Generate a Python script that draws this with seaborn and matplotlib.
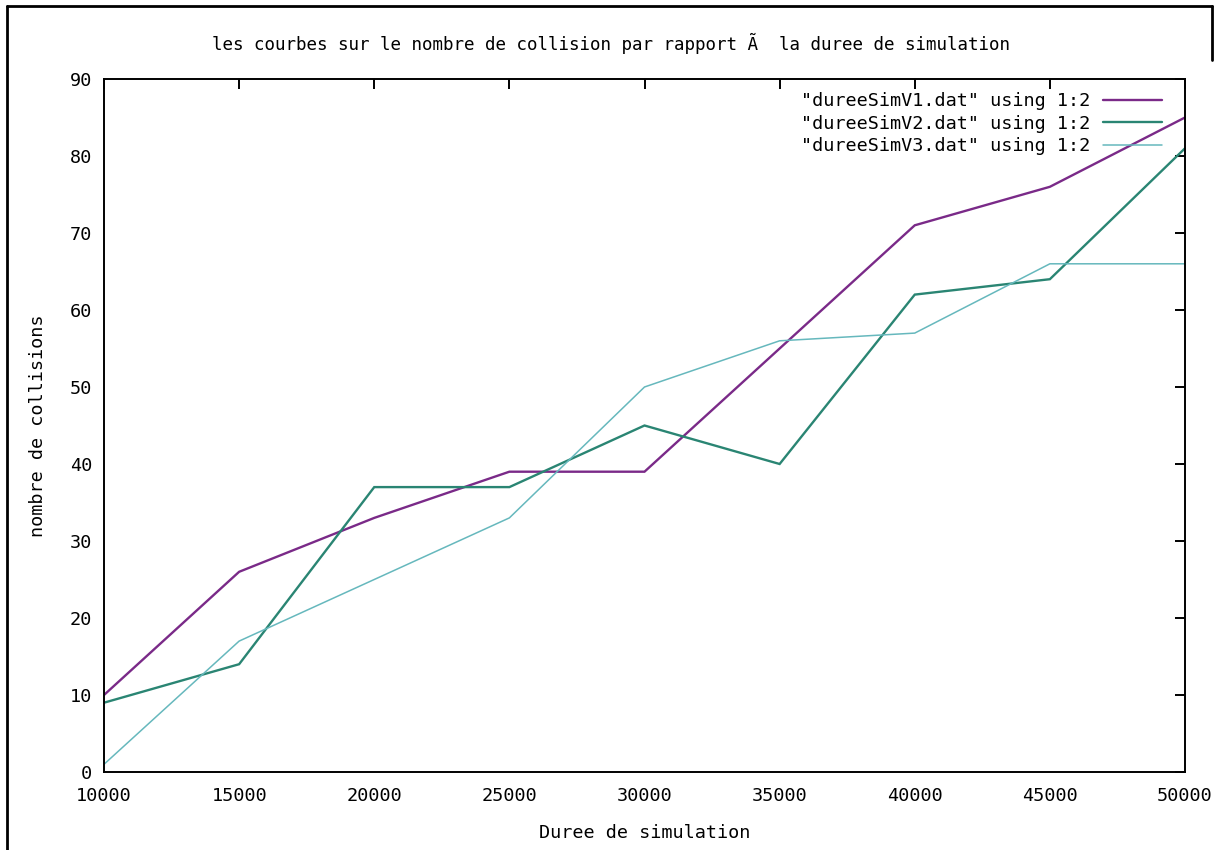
import matplotlib
matplotlib.use("Agg")
import matplotlib.pyplot as plt
from matplotlib.lines import Line2D
import numpy as np
import pandas as pd
import seaborn as sns

# Simulation durations (x) and collision counts for the three data files
duree = [10000, 15000, 20000, 25000, 30000, 35000, 40000, 45000, 50000]
collisions_v1 = [10, 26, 33, 39, 39, 55, 71, 76, 85]
collisions_v2 = [9, 14, 37, 37, 45, 40, 62, 64, 81]
collisions_v3 = [1, 17, 25, 33, 50, 56, 57, 66, 66]

series_names = ['"dureeSimV1.dat" using 1:2',
                '"dureeSimV2.dat" using 1:2',
                '"dureeSimV3.dat" using 1:2']
series_colors = ["#7a2a88", "#2a8573", "#66b8bd"]
series_widths = [1.7, 1.7, 1.1]

x_ticks = [10000, 15000, 20000, 25000, 30000, 35000, 40000, 45000, 50000]
y_ticks = [0, 10, 20, 30, 40, 50, 60, 70, 80, 90]

title_text = "les courbes sur le nombre de collision par rapport Ã  la duree de simulation"
x_label = "Duree de simulation"
y_label = "nombre de collisions"

df = pd.DataFrame({
    "duree": duree * 3,
    "collisions": collisions_v1 + collisions_v2 + collisions_v3,
    "serie": [series_names[0]] * len(duree)
             + [series_names[1]] * len(duree)
             + [series_names[2]] * len(duree),
})

sns.set_style("white")
plt.rcParams["font.family"] = ["DejaVu Sans Mono", "DejaVu Sans"]
plt.rcParams["text.color"] = "black"
plt.rcParams["axes.labelcolor"] = "black"
plt.rcParams["xtick.color"] = "black"
plt.rcParams["ytick.color"] = "black"

W, H = 1221, 850
fig = plt.figure(figsize=(W / 100, H / 100), dpi=100)
fig.patch.set_facecolor("white")

# plot area in pixels: x 104..1185, y 79..772
left, right, top, bottom = 104, 1185, 79, 772
ax = fig.add_axes([left / W, 1 - bottom / H, (right - left) / W, (bottom - top) / H])

sns.lineplot(data=df, x="duree", y="collisions", hue="serie",
             palette=series_colors, hue_order=series_names,
             ax=ax, legend=False, estimator=None, sort=False)
for line, lw in zip(ax.get_lines(), series_widths):
    line.set_linewidth(lw)
    line.set_solid_joinstyle("miter")

ax.set_xlim(10000, 50000)
ax.set_ylim(0, 90)
ax.set_xticks(x_ticks)
ax.set_yticks(y_ticks)
ax.set_xticklabels([str(v) for v in x_ticks])
ax.set_yticklabels([str(v) for v in y_ticks])

for s in ax.spines.values():
    s.set_visible(True)
    s.set_color("black")
    s.set_linewidth(1.4)

ax.tick_params(axis="both", which="both", direction="in", length=7, width=1.4,
               top=True, right=True, labelsize=13.3, colors="black",
               labelcolor="black")
ax.tick_params(axis="y", pad=8.5)
ax.tick_params(axis="x", pad=11)

ax.set_xlabel(x_label, fontsize=13.3, color="black")
ax.set_ylabel(y_label, fontsize=13.3, color="black")
ax.xaxis.label.set_va("center")
ax.yaxis.label.set_va("center")
ax.xaxis.set_label_coords(0.5, (bottom - 833) / (bottom - top))
ax.yaxis.set_label_coords((38 - left) / (right - left), 0.5)

fig.text(0.5, 1 - 43 / H, title_text, ha="center", va="center",
         fontsize=12.6, color="black")

handles = [Line2D([], [], color=c, lw=lw) for c, lw in zip(series_colors, series_widths)]
leg = ax.legend(handles, series_names, loc="upper right",
                bbox_to_anchor=((1162 - left) / (right - left), (bottom - 92) / (bottom - top)),
                frameon=False, markerfirst=False, fontsize=13.3,
                handlelength=3.2, handletextpad=0.7, labelspacing=0.25,
                borderpad=0, borderaxespad=0)
for t in leg.get_texts():
    t.set_color("black")

# outer window frame
fig.add_artist(Line2D([7 / W, 7 / W], [0, 1 - 6 / H], color="black", lw=2,
                      transform=fig.transFigure))
fig.add_artist(Line2D([7 / W, 1212 / W], [1 - 6 / H, 1 - 6 / H], color="black", lw=2,
                      transform=fig.transFigure))
fig.add_artist(Line2D([1212 / W, 1212 / W], [1 - 6 / H, 1 - 60 / H], color="black", lw=2,
                      transform=fig.transFigure))

fig.savefig("out.png", dpi=100)
